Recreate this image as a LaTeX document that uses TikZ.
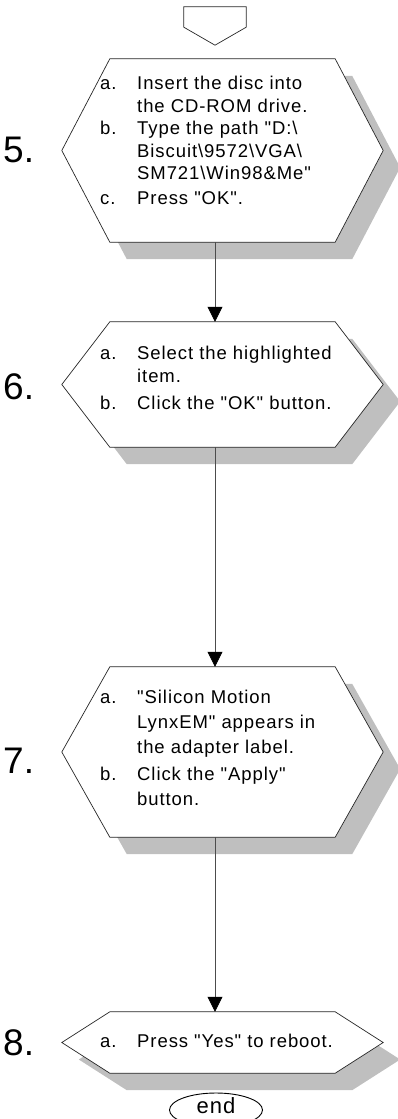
\documentclass[tikz,border=0pt]{standalone}
\usepackage{fontspec}
\setmainfont{Liberation Sans}
\newfontfamily\boxfont[LetterSpace=5]{Liberation Sans}
\usetikzlibrary{arrows.meta,shapes.geometric,shadows}

\newcommand\hexpath[2]{(#1.north west) -- (#1.north east) -- ([xshift=#2]#1.east) -- (#1.south east) -- (#1.south west) -- ([xshift=-#2]#1.west) -- cycle}

\tikzset{
  hexframe/.style={draw=none, minimum width=225pt, inner sep=0pt},
  hexline/.style={draw=black!85, line width=0.7pt, fill=white,
    drop shadow={shadow xshift=17pt, shadow yshift=-17pt, fill=black!25, opacity=1}},
  steptext/.style={anchor=west, inner sep=0pt, font=\boxfont\fontsize{18.5}{#1}\selectfont},
  stepnum/.style={anchor=west, inner sep=0pt, font=\fontsize{37}{37}\selectfont},
  flow/.style={->, draw=black!70, line width=0.7pt}
}

\begin{document}
\begin{tikzpicture}[x=1pt, y=1pt, >={Triangle[width=15pt,length=15pt,color=black]}]
\useasboundingbox (0,0) rectangle (397,-1119);
% frames
\node[hexframe, minimum width=62pt, minimum height=20pt] (entry) at (215,-17) {};
\node[hexframe, minimum height=183pt] (s5) at (222.5,-150.5) {};
\node[hexframe, minimum height=125pt] (s6) at (222.5,-384.5) {};
\node[hexframe, minimum height=170pt] (s7) at (222.5,-752) {};
\node[hexframe, minimum height=61pt] (s8) at (222.5,-1042.5) {};
\draw[draw=black!85, line width=0.7pt] (entry.north west) -- (entry.north east) -- (entry.south east) -- ([yshift=-18pt]entry.south) -- (entry.south west) -- cycle;
\foreach \s in {s5,s6,s7,s8}
  \draw[hexline] \hexpath{\s}{48pt};
% step numbers
\node[stepnum] (n5) at (3,-149.5) {5.};
\node[stepnum] (n6) at (3,-387) {6.};
\node[stepnum] (n7) at (3,-761) {7.};
\node[stepnum] (n8) at (3,-1043) {8.};
% texts
\node[steptext=22.5] (t5) at (100,-142.5) {\begin{tabular}{@{}p{37pt}@{}l@{}}
a. & Insert the disc into\\
   & the CD-ROM drive.\\
b. & Type the path "D:\textbackslash\\
   & Biscuit\textbackslash 9572\textbackslash VGA\textbackslash\\
   & SM721\textbackslash Win98\&Me"\\[2.5pt]
c. & Press "OK".
\end{tabular}};
\node[steptext=23] (t6) at (100,-380) {\begin{tabular}{@{}p{37pt}@{}l@{}}
a. & Select the highlighted\\
   & item.\\[4pt]
b. & Click the "OK" button.
\end{tabular}};
\node[steptext=25] (t7) at (100,-749) {\begin{tabular}{@{}p{37pt}@{}l@{}}
a. & "Silicon Motion\\
   & LynxEM" appears in\\
   & the adapter label.\\[2pt]
b. & Click the "Apply"\\
   & button.
\end{tabular}};
\node[steptext=23] (t8) at (100,-1043) {\begin{tabular}{@{}p{37pt}@{}l@{}}
a. & Press "Yes" to reboot.
\end{tabular}};
\node[draw=black, ellipse, line width=0.9pt, minimum width=93pt, minimum height=34pt, inner sep=0pt, text depth=8pt,
  font=\boxfont\fontsize{22}{22}\selectfont] (finish) at (216,-1110) {end};
% connectors
\draw[flow] (s5.south -| entry) -- (s6.north -| entry);
\draw[flow] (s6.south -| entry) -- (s7.north -| entry);
\draw[flow] (s7.south -| entry) -- (s8.north -| entry);
\end{tikzpicture}
\end{document}
